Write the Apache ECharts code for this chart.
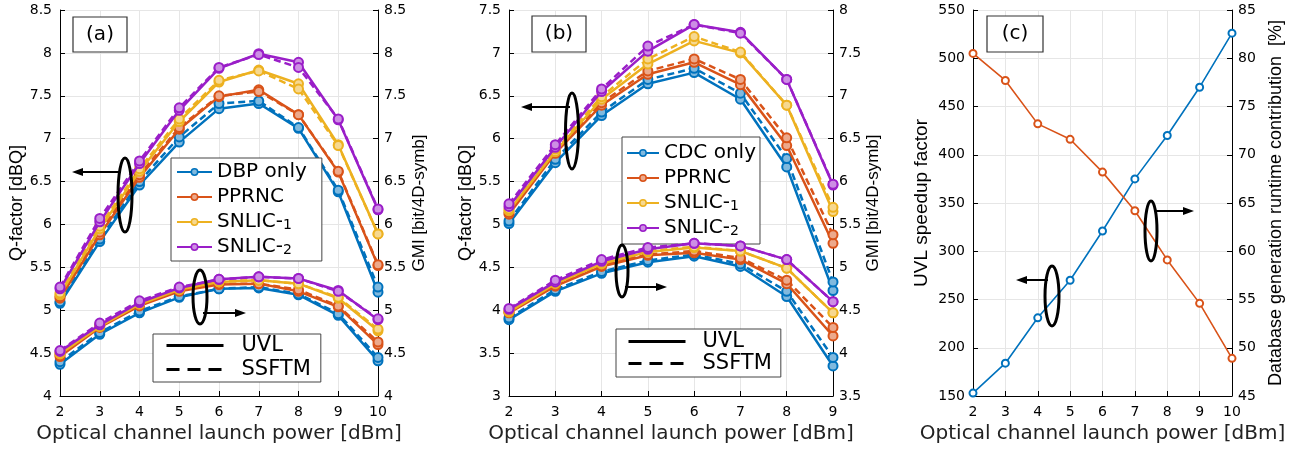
<!DOCTYPE html>
<html><head><meta charset="utf-8">
<script src="https://cdn.jsdelivr.net/npm/echarts@6/dist/echarts.min.js"></script>
<style>html,body{margin:0;padding:0;background:#fff}#c{width:1299px;height:449px}</style>
</head><body><div id="c"></div>
<script>
// ---------- data ----------
const powerA = [2,3,4,5,6,7,8,9,10];
const powerB = [2,3,4,5,6,7,8,9];
const powerC = [2,3,4,5,6,7,8,9,10];

// Panel (a) Q-factor [dBQ]
const qA_DBP_UVL     = [5.08,5.80,6.46,6.96,7.35,7.41,7.12,6.38,5.21];
const qA_DBP_SSFTM   = [5.10,5.83,6.50,7.02,7.41,7.44,7.13,6.40,5.27];
const qA_PPRNC_UVL   = [5.14,5.88,6.55,7.11,7.49,7.57,7.28,6.61,5.52];
const qA_PPRNC_SSFTM = [5.16,5.91,6.58,7.13,7.50,7.55,7.28,6.62,5.53];
const qA_S1_UVL      = [5.18,5.95,6.62,7.20,7.66,7.80,7.64,6.93,5.89];
const qA_S1_SSFTM    = [5.20,5.98,6.65,7.23,7.68,7.79,7.58,6.92,5.89];
const qA_S2_UVL      = [5.25,6.03,6.71,7.33,7.82,7.99,7.89,7.22,6.17];
const qA_S2_SSFTM    = [5.27,6.07,6.74,7.36,7.83,7.98,7.83,7.23,6.18];
// Panel (a) GMI [bit/4D-symb]
const gA_DBP_UVL     = [4.37,4.72,4.97,5.15,5.25,5.26,5.18,4.94,4.41];
const gA_DBP_SSFTM   = [4.40,4.74,4.99,5.16,5.25,5.27,5.19,4.96,4.45];
const gA_PPRNC_UVL   = [4.46,4.80,5.05,5.22,5.30,5.31,5.22,5.04,4.60];
const gA_PPRNC_SSFTM = [4.48,4.81,5.06,5.23,5.31,5.31,5.24,5.05,4.63];
const gA_S1_UVL      = [4.49,4.81,5.07,5.24,5.33,5.35,5.31,5.14,4.76];
const gA_S1_SSFTM    = [4.50,4.83,5.08,5.25,5.34,5.35,5.31,5.15,4.78];
const gA_S2_UVL      = [4.52,4.83,5.09,5.26,5.36,5.39,5.37,5.23,4.89];
const gA_S2_SSFTM    = [4.53,4.85,5.11,5.27,5.36,5.39,5.37,5.22,4.90];

// Panel (b) Q-factor [dBQ]
const qB_CDC_UVL     = [5.01,5.72,6.27,6.64,6.77,6.46,5.67,4.23];
const qB_CDC_SSFTM   = [5.04,5.76,6.31,6.69,6.82,6.53,5.77,4.33];
const qB_PPRNC_UVL   = [5.12,5.83,6.39,6.75,6.89,6.63,5.92,4.78];
const qB_PPRNC_SSFTM = [5.14,5.86,6.42,6.79,6.93,6.69,6.01,4.88];
const qB_S1_UVL      = [5.16,5.85,6.46,6.87,7.14,7.00,6.39,5.15];
const qB_S1_SSFTM    = [5.18,5.88,6.49,6.93,7.19,7.01,6.39,5.20];
const qB_S2_UVL      = [5.21,5.90,6.55,7.02,7.33,7.24,6.69,5.46];
const qB_S2_SSFTM    = [5.24,5.93,6.58,7.08,7.33,7.23,6.69,5.47];
// Panel (b) GMI [bit/4D-symb]
const gB_CDC_UVL     = [4.39,4.72,4.93,5.06,5.13,5.01,4.66,3.85];
const gB_CDC_SSFTM   = [4.41,4.74,4.95,5.08,5.15,5.04,4.72,3.95];
const gB_PPRNC_UVL   = [4.47,4.78,5.01,5.14,5.17,5.09,4.81,4.20];
const gB_PPRNC_SSFTM = [4.48,4.80,5.03,5.15,5.19,5.11,4.85,4.30];
const gB_S1_UVL      = [4.48,4.81,5.04,5.18,5.23,5.19,4.99,4.47];
const gB_S1_SSFTM    = [4.49,4.82,5.05,5.19,5.24,5.19,4.99,4.47];
const gB_S2_UVL      = [4.51,4.83,5.07,5.21,5.28,5.25,5.09,4.60];
const gB_S2_SSFTM    = [4.52,4.85,5.09,5.23,5.28,5.25,5.09,4.60];

// Panel (c)
const uvlSpeedup     = [153,184,231,270,321,375,420,470,526];
const dbContribution = [80.5,77.7,73.2,71.6,68.2,64.2,59.1,54.6,48.9];

const namesA = ['DBP only','PPRNC','SNLIC-1','SNLIC-2'];
const namesB = ['CDC only','PPRNC','SNLIC-1','SNLIC-2'];
const styleNames = ['UVL','SSFTM'];
const xName = 'Optical channel launch power [dBm]';

// ---------- styles ----------
const COL = ['#0072BD','#D95319','#EDB120','#9A1EC8'];
const LIGHT = ['#80b9de','#eca98c','#f6d890','#cd8fe4'];
const TICKFONT = 'DejaVu Sans';
const NAMEFONT = 'Liberation Sans';

function zip(xs, ys){ return xs.map((x,i)=>[x, ys[i]]); }
function mk(name, xs, ys, k, dashed, xi, yi){
  return {
    name, type:'line', xAxisIndex:xi, yAxisIndex:yi, data: zip(xs, ys),
    symbol:'circle', symbolSize:9, animation:false,
    lineStyle:{color:COL[k], width:2.5, type: dashed ? [7,4] : 'solid'},
    itemStyle:{color:LIGHT[k], borderColor:COL[k], borderWidth:2},
    z: 2 + k
  };
}

const series = [];
const setA = [
  [qA_DBP_UVL,qA_DBP_SSFTM,gA_DBP_UVL,gA_DBP_SSFTM],
  [qA_PPRNC_UVL,qA_PPRNC_SSFTM,gA_PPRNC_UVL,gA_PPRNC_SSFTM],
  [qA_S1_UVL,qA_S1_SSFTM,gA_S1_UVL,gA_S1_SSFTM],
  [qA_S2_UVL,qA_S2_SSFTM,gA_S2_UVL,gA_S2_SSFTM]
];
const setB = [
  [qB_CDC_UVL,qB_CDC_SSFTM,gB_CDC_UVL,gB_CDC_SSFTM],
  [qB_PPRNC_UVL,qB_PPRNC_SSFTM,gB_PPRNC_UVL,gB_PPRNC_SSFTM],
  [qB_S1_UVL,qB_S1_SSFTM,gB_S1_UVL,gB_S1_SSFTM],
  [qB_S2_UVL,qB_S2_SSFTM,gB_S2_UVL,gB_S2_SSFTM]
];
for (let k=0;k<4;k++){
  const s = setA[k];
  series.push(mk(namesA[k], powerA, s[0], k, false, 0, 0));
  series.push(mk(namesA[k], powerA, s[1], k, true, 0, 0));
  series.push(mk(namesA[k], powerA, s[2], k, false, 0, 1));
  series.push(mk(namesA[k], powerA, s[3], k, true, 0, 1));
}
for (let k=0;k<4;k++){
  const s = setB[k];
  series.push(mk(namesB[k], powerB, s[0], k, false, 1, 2));
  series.push(mk(namesB[k], powerB, s[1], k, true, 1, 2));
  series.push(mk(namesB[k], powerB, s[2], k, false, 1, 3));
  series.push(mk(namesB[k], powerB, s[3], k, true, 1, 3));
}
// legend-only line style entries
series.push({name:styleNames[0], type:'line', xAxisIndex:0, yAxisIndex:0, data:[], symbol:'none',
  lineStyle:{color:'#000', width:3, type:'solid'}, itemStyle:{color:'#000'}});
series.push({name:styleNames[1], type:'line', xAxisIndex:0, yAxisIndex:0, data:[], symbol:'none',
  lineStyle:{color:'#000', width:3, type:[13,8]}, itemStyle:{color:'#000'}});
// panel c
series.push({name:'UVL speedup factor', type:'line', xAxisIndex:2, yAxisIndex:4, data:zip(powerC, uvlSpeedup),
  symbol:'emptyCircle', symbolSize:7, animation:false,
  lineStyle:{color:COL[0], width:1.6}, itemStyle:{color:COL[0], borderWidth:1.5}});
series.push({name:'Database generation runtime contribution', type:'line', xAxisIndex:2, yAxisIndex:5, data:zip(powerC, dbContribution),
  symbol:'emptyCircle', symbolSize:7, animation:false,
  lineStyle:{color:COL[1], width:1.6}, itemStyle:{color:COL[1], borderWidth:1.5}});

function xAx(gi, max){
  return {type:'value', gridIndex:gi, min:2, max:max, interval:1,
    name:xName, nameLocation:'middle', nameGap:26,
    nameTextStyle:{fontFamily:TICKFONT, fontSize:20, color:'#222'},
    axisLine:{lineStyle:{color:'#000', width:1}},
    axisTick:{inside:true, length:5, lineStyle:{color:'#000'}},
    axisLabel:{fontFamily:TICKFONT, fontSize:14, color:'#000', margin:9},
    splitLine:{show:true, lineStyle:{color:'#e6e6e6', width:1}}};
}
function yAx(gi, pos, min, max, itv, name, gap, nfs, split){
  return {type:'value', gridIndex:gi, position:pos, min, max, interval:itv,
    name, nameLocation:'middle', nameGap:gap, nameRotate:90,
    nameTextStyle:{fontFamily:NAMEFONT, fontSize:nfs, color:'#000'},
    axisLine:{show:true, lineStyle:{color:'#000', width:1}},
    axisTick:{show:true, inside:true, length:5, lineStyle:{color:'#000'}},
    axisLabel:{fontFamily:TICKFONT, fontSize:14, color:'#000', margin: pos==='left'?8:6},
    splitLine:{show:split, lineStyle:{color:'#e6e6e6', width:1}}};
}

const richTxt = {
  n:{fontFamily:TICKFONT, fontSize:20, color:'#000', verticalAlign:'bottom'},
  s:{fontFamily:TICKFONT, fontSize:14, color:'#000', verticalAlign:'bottom'}
};
function fmt(name){
  const m = /^SNLIC-(\d)$/.exec(name);
  return m ? '{n|SNLIC-}{s|' + m[1] + '}' : '{n|' + name + '}';
}
function seriesLegend(left, top, data, iw, pad){
  return {show:true, orient:'vertical', left, top,
    data: data.map(n=>({name:n, itemStyle:{borderWidth:1.5}, lineStyle:{width:2}})),
    itemWidth:iw, itemHeight:8, itemGap:5,
    padding:pad, borderColor:'#444', borderWidth:1, backgroundColor:'#fff', selectedMode:false,
    formatter: fmt, textStyle:{fontFamily:TICKFONT, fontSize:20, color:'#000', rich:richTxt}};
}
function styleLegend(left, top, gap, pad, tpad){
  return {show:true, orient:'vertical', left, top,
    data: styleNames.map(n=>({name:n,
      itemStyle:{color:'rgba(0,0,0,0)', borderColor:'rgba(0,0,0,0)', borderWidth:0, opacity:0},
      lineStyle:{width:3, color:'#000'}})),
    itemWidth:57, itemHeight:14, itemGap:gap,
    padding:pad, borderColor:'#444', borderWidth:1, backgroundColor:'#fff', selectedMode:false,
    textStyle:{fontFamily:TICKFONT, fontSize:21, color:'#000', padding:[0,0,0,tpad]}};
}

function ellipse(cx, cy, rx, ry){
  return {type:'ellipse', shape:{cx, cy, rx, ry}, style:{fill:null, stroke:'#000', lineWidth:3}, z:100};
}
function arrow(x1, y, tip){
  const dir = tip > x1 ? 1 : -1;
  return [
    {type:'line', shape:{x1, y1:y, x2:tip - dir*8, y2:y}, style:{stroke:'#000', lineWidth:2}, z:100},
    {type:'polygon', shape:{points:[[tip,y],[tip-dir*11,y-4],[tip-dir*11,y+4]]}, style:{fill:'#000'}, z:100}
  ];
}
function labelBox(x, y, w, h, t){
  return [
    {type:'rect', shape:{x, y, width:w, height:h}, style:{fill:'#fff', stroke:'#333', lineWidth:1.2}, z:100},
    {type:'text', style:{text:t, x:x+w/2, y:y+h/2, align:'center', verticalAlign:'middle',
      fontFamily:TICKFONT, fontSize:20, fill:'#000'}, z:101}
  ];
}

const option = {
  backgroundColor:'#fff',
  animation:false,
  grid:[
    {left:60, top:10, width:318, height:386},
    {left:509, top:10, width:324, height:386},
    {left:973, top:10, width:259, height:386}
  ],
  xAxis:[xAx(0,10), xAx(1,9), xAx(2,10)],
  yAxis:[
    yAx(0,'left',4,8.5,0.5,'Q-factor [dBQ]',30,18,true),
    yAx(0,'right',4,8.5,0.5,'GMI [bit/4D-symb]',33,17,false),
    yAx(1,'left',3,7.5,0.5,'Q-factor [dBQ]',30,18,true),
    yAx(1,'right',3.5,8,0.5,'GMI [bit/4D-symb]',30,17,false),
    yAx(2,'left',150,550,50,'UVL speedup factor',42,19,true),
    yAx(2,'right',45,85,5,'Database generation runtime contribution  [%]',35,18,false)
  ],
  legend:[
    seriesLegend(171, 158, namesA, 35, [4,15,4,5]),
    styleLegend(153, 334, 3, [1,10,2,12], 13),
    seriesLegend(622, 137, namesB, 32, [6,4,6,4]),
    styleLegend(616, 329, 1, [2,9,3,11], 12)
  ],
  series,
  graphic:[
    ...labelBox(73,17,54,35,'(a)'),
    ...labelBox(532,16,54,36,'(b)'),
    ...labelBox(987,16,56,36,'(c)'),
    ellipse(125,195,7,37), ...arrow(121,172,72),
    ellipse(200,297,7,27), ...arrow(203,313,246),
    ellipse(572,131,6.5,38), ...arrow(570,107,521),
    ellipse(622,271,6,26), ...arrow(625,287,667),
    ellipse(1052,296,7,30), ...arrow(1048,280,1016),
    ellipse(1151,231,6,30), ...arrow(1155,211,1194)
  ]
};
const chart = echarts.init(document.getElementById('c'), null, {renderer:'canvas'});
chart.setOption(option);
</script>
</body></html>
